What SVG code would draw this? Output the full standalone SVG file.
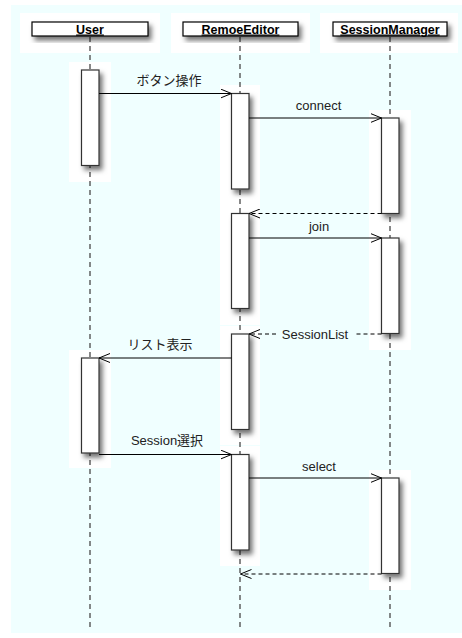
<svg xmlns="http://www.w3.org/2000/svg" width="462" height="638" viewBox="0 0 462 638">
  <defs>
    <filter id="shadow" x="-50%" y="-50%" width="200%" height="200%">
      <feDropShadow dx="3" dy="4" stdDeviation="2.5" flood-color="#000" flood-opacity="0.55"/>
    </filter>
    <marker id="open" viewBox="0 0 12 10" refX="11" refY="5" markerWidth="12" markerHeight="10" markerUnits="userSpaceOnUse" orient="auto">
      <path d="M0,0.5 L11,5 L0,9.5" fill="none" stroke="#000" stroke-width="1"/>
    </marker>
  </defs>
  <style>
    .patch { fill: #ffffff; }
    .head { fill: #ffffff; stroke: #000; stroke-width: 1.2; filter: url(#shadow); }
    .act { fill: #ffffff; stroke: #333; stroke-width: 1.2; filter: url(#shadow); }
    .life { stroke: #555; stroke-width: 1.4; stroke-dasharray: 5 4; fill: none; }
    .title { font-family: "Liberation Sans", Arial, sans-serif; font-size: 12.5px; font-weight: bold; text-decoration: underline; text-anchor: middle; fill: #000; }
    .msg { stroke: #000; stroke-width: 1; fill: none; marker-end: url(#open); }
    .ret { stroke: #000; stroke-width: 1; fill: none; stroke-dasharray: 4 3; marker-end: url(#open); }
    .lbl { font-family: "Liberation Sans", "Noto Sans CJK JP", Arial, sans-serif; font-size: 13px; text-anchor: middle; fill: #222; }
  </style>

  <!-- canvas -->
  <rect x="11" y="5" width="451" height="628" fill="#f0ffff"/>

  <!-- white backdrop behind heads and activations -->
  <g id="backdrops">
    <rect class="patch" x="20" y="13" width="140" height="40"/>
    <rect class="patch" x="171" y="13" width="139" height="40"/>
    <rect class="patch" x="320" y="13" width="138" height="40"/>
    <rect class="patch" x="69" y="62" width="42" height="120"/>
    <rect class="patch" x="69" y="350" width="42" height="118"/>
    <rect class="patch" x="220" y="85" width="40" height="120"/>
    <rect class="patch" x="220" y="205" width="40" height="120"/>
    <rect class="patch" x="220" y="326" width="40" height="119"/>
    <rect class="patch" x="220" y="446" width="40" height="120"/>
    <rect class="patch" x="369" y="110" width="42" height="120"/>
    <rect class="patch" x="369" y="230" width="42" height="120"/>
    <rect class="patch" x="369" y="470" width="42" height="120"/>
  </g>

  <g id="User">
    <line class="life" x1="90" y1="37" x2="90" y2="630"/>
    <rect class="head" x="32" y="22" width="116" height="14"/>
    <text class="title" x="90" y="33.5">User</text>
    <rect class="act" x="81.5" y="70" width="17.5" height="95.5"/>
    <rect class="act" x="81.5" y="358" width="17.5" height="95"/>
  </g>

  <g id="RemoeEditor">
    <line class="life" x1="240" y1="37" x2="240" y2="630"/>
    <rect class="head" x="183" y="22" width="115" height="14"/>
    <text class="title" x="240.5" y="33.5">RemoeEditor</text>
    <rect class="act" x="231.5" y="93.5" width="17.5" height="95.5"/>
    <rect class="act" x="231.5" y="213.5" width="17.5" height="95"/>
    <rect class="act" x="231.5" y="334" width="17.5" height="95.5"/>
    <rect class="act" x="231.5" y="454.5" width="17.5" height="95.5"/>
  </g>

  <g id="SessionManager">
    <line class="life" x1="390" y1="37" x2="390" y2="630"/>
    <rect class="head" x="333" y="22" width="114" height="14"/>
    <text class="title" x="390" y="33.5">SessionManager</text>
    <rect class="act" x="381.5" y="118" width="17.5" height="95.5"/>
    <rect class="act" x="381.5" y="238" width="17.5" height="95.5"/>
    <rect class="act" x="381.5" y="478" width="17.5" height="95.5"/>
  </g>

  <g id="connectors">
    <line class="msg" x1="99" y1="93.5" x2="231.5" y2="93.5"/>
    <line class="msg" x1="249" y1="118" x2="381.5" y2="118"/>
    <line class="ret" x1="381.5" y1="213.5" x2="249" y2="213.5"/>
    <line class="msg" x1="249" y1="238" x2="381.5" y2="238"/>
    <line class="ret" x1="381.5" y1="334" x2="354" y2="334" style="marker-end:none"/>
    <line class="ret" x1="276" y1="334" x2="249" y2="334"/>
    <line class="msg" x1="231.5" y1="358" x2="99" y2="358"/>
    <line class="msg" x1="99" y1="454.5" x2="231.5" y2="454.5"/>
    <line class="msg" x1="249" y1="478" x2="381.5" y2="478"/>
    <line class="ret" x1="381.5" y1="574" x2="240.5" y2="574"/>
  </g>

  <g id="labels">
    <text class="lbl" x="169" y="85">ボタン操作</text>
    <text class="lbl" x="318.5" y="110">connect</text>
    <text class="lbl" x="319" y="231">join</text>
    <text class="lbl" x="315" y="338.5">SessionList</text>
    <text class="lbl" x="160" y="349">リスト表示</text>
    <text class="lbl" x="167" y="445">Session選択</text>
    <text class="lbl" x="319" y="471">select</text>
  </g>
</svg>
